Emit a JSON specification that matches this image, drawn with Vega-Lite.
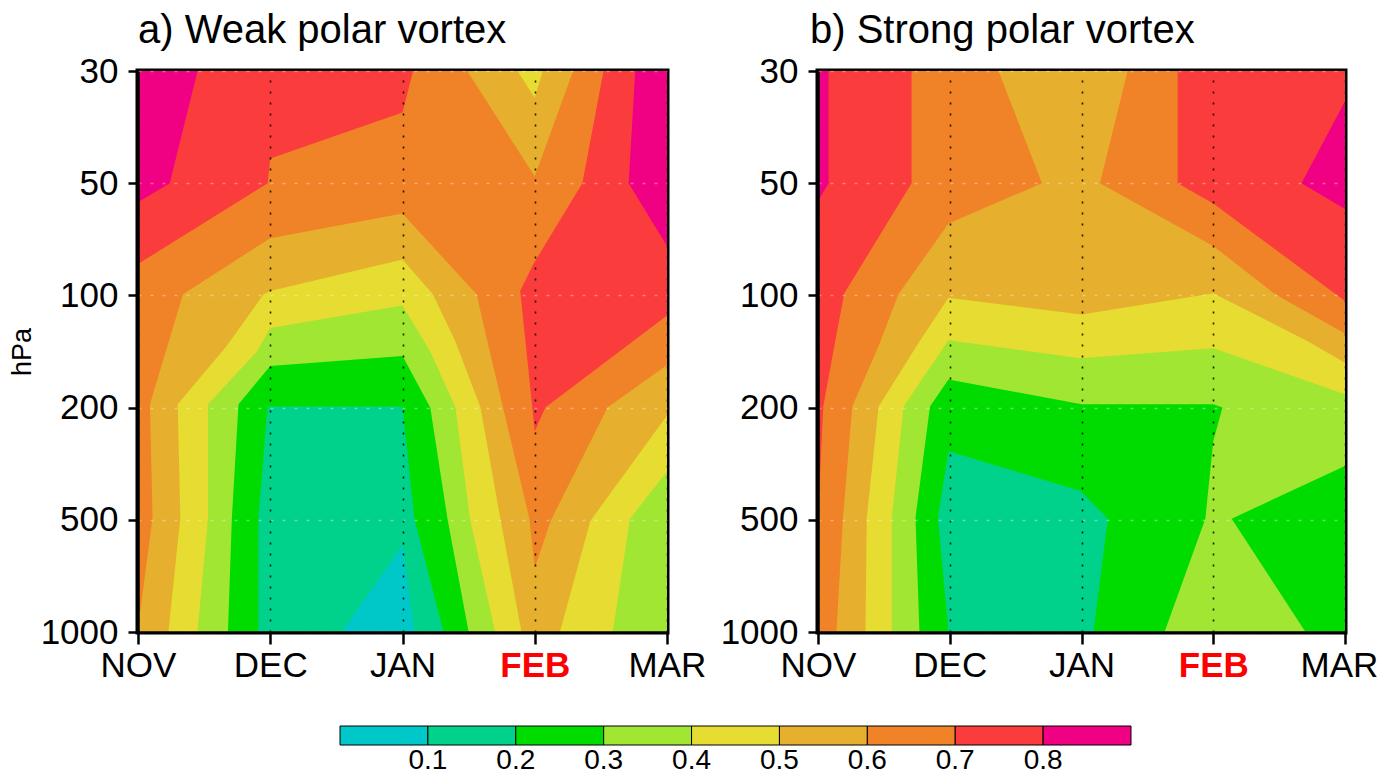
{
"$schema":"https://vega.github.io/schema/vega-lite/v6.json",
"background":"white",
"padding":{"left":5,"top":8,"right":0,"bottom":0},
"bounds":"flush",
"spacing":151,
"datasets":{"poly":[
{"p":"a","v":0.85,"g":"a9","i":0,"x":0,"y":0},{"p":"a","v":0.85,"g":"a9","i":1,"x":4,"y":0},{"p":"a","v":0.85,"g":"a9","i":2,"x":4,"y":5},{"p":"a","v":0.85,"g":"a9","i":3,"x":0,"y":5},
{"p":"a","v":0.75,"g":"a8","i":0,"x":0.45,"y":0},{"p":"a","v":0.75,"g":"a8","i":1,"x":3.76,"y":0},{"p":"a","v":0.75,"g":"a8","i":2,"x":3.71,"y":1},{"p":"a","v":0.75,"g":"a8","i":3,"x":4,"y":1.56},{"p":"a","v":0.75,"g":"a8","i":4,"x":4,"y":5},{"p":"a","v":0.75,"g":"a8","i":5,"x":0,"y":5},{"p":"a","v":0.75,"g":"a8","i":6,"x":0,"y":1.17},{"p":"a","v":0.75,"g":"a8","i":7,"x":0.24,"y":1},
{"p":"a","v":0.65,"g":"a7","i":0,"x":2.08,"y":0},{"p":"a","v":0.65,"g":"a7","i":1,"x":3.52,"y":0},{"p":"a","v":0.65,"g":"a7","i":2,"x":3.36,"y":1},{"p":"a","v":0.65,"g":"a7","i":3,"x":2.99,"y":1.72},{"p":"a","v":0.65,"g":"a7","i":4,"x":2.89,"y":1.96},{"p":"a","v":0.65,"g":"a7","i":5,"x":2.93,"y":2.41},{"p":"a","v":0.65,"g":"a7","i":6,"x":3,"y":3.21},{"p":"a","v":0.65,"g":"a7","i":7,"x":3.08,"y":3},{"p":"a","v":0.65,"g":"a7","i":8,"x":3.74,"y":2.41},{"p":"a","v":0.65,"g":"a7","i":9,"x":4,"y":2.18},{"p":"a","v":0.65,"g":"a7","i":10,"x":4,"y":5},{"p":"a","v":0.65,"g":"a7","i":11,"x":0,"y":5},{"p":"a","v":0.65,"g":"a7","i":12,"x":0,"y":1.72},{"p":"a","v":0.65,"g":"a7","i":13,"x":0.98,"y":1},{"p":"a","v":0.65,"g":"a7","i":14,"x":1,"y":0.78},{"p":"a","v":0.65,"g":"a7","i":15,"x":2,"y":0.37},
{"p":"a","v":0.55,"g":"a6a","i":0,"x":2.49,"y":0},{"p":"a","v":0.55,"g":"a6a","i":1,"x":3,"y":0.94},{"p":"a","v":0.55,"g":"a6a","i":2,"x":3.29,"y":0},
{"p":"a","v":0.55,"g":"a6b","i":0,"x":0,"y":4.9},{"p":"a","v":0.55,"g":"a6b","i":1,"x":0.02,"y":4.79},{"p":"a","v":0.55,"g":"a6b","i":2,"x":0.11,"y":3.98},{"p":"a","v":0.55,"g":"a6b","i":3,"x":0.09,"y":2.97},{"p":"a","v":0.55,"g":"a6b","i":4,"x":0.34,"y":1.99},{"p":"a","v":0.55,"g":"a6b","i":5,"x":1,"y":1.49},{"p":"a","v":0.55,"g":"a6b","i":6,"x":2,"y":1.27},{"p":"a","v":0.55,"g":"a6b","i":7,"x":2.56,"y":1.99},{"p":"a","v":0.55,"g":"a6b","i":8,"x":2.65,"y":2.45},{"p":"a","v":0.55,"g":"a6b","i":9,"x":2.76,"y":3},{"p":"a","v":0.55,"g":"a6b","i":10,"x":2.96,"y":3.99},{"p":"a","v":0.55,"g":"a6b","i":11,"x":3,"y":4.43},{"p":"a","v":0.55,"g":"a6b","i":12,"x":3.12,"y":4.01},{"p":"a","v":0.55,"g":"a6b","i":13,"x":3.55,"y":3},{"p":"a","v":0.55,"g":"a6b","i":14,"x":4,"y":2.62},{"p":"a","v":0.55,"g":"a6b","i":15,"x":4,"y":5},{"p":"a","v":0.55,"g":"a6b","i":16,"x":0,"y":5},
{"p":"a","v":0.45,"g":"a5a","i":0,"x":2.87,"y":0},{"p":"a","v":0.45,"g":"a5a","i":1,"x":3,"y":0.24},{"p":"a","v":0.45,"g":"a5a","i":2,"x":3.06,"y":0},
{"p":"a","v":0.45,"g":"a5b","i":0,"x":0.23,"y":5},{"p":"a","v":0.45,"g":"a5b","i":1,"x":0.32,"y":3.98},{"p":"a","v":0.45,"g":"a5b","i":2,"x":0.3,"y":2.97},{"p":"a","v":0.45,"g":"a5b","i":3,"x":0.67,"y":2.45},{"p":"a","v":0.45,"g":"a5b","i":4,"x":0.95,"y":1.99},{"p":"a","v":0.45,"g":"a5b","i":5,"x":1,"y":1.96},{"p":"a","v":0.45,"g":"a5b","i":6,"x":2,"y":1.68},{"p":"a","v":0.45,"g":"a5b","i":7,"x":2.23,"y":1.99},{"p":"a","v":0.45,"g":"a5b","i":8,"x":2.4,"y":2.41},{"p":"a","v":0.45,"g":"a5b","i":9,"x":2.59,"y":3},{"p":"a","v":0.45,"g":"a5b","i":10,"x":2.74,"y":3.99},{"p":"a","v":0.45,"g":"a5b","i":11,"x":2.9,"y":5},
{"p":"a","v":0.45,"g":"a5c","i":0,"x":4,"y":3.07},{"p":"a","v":0.45,"g":"a5c","i":1,"x":3.42,"y":4.01},{"p":"a","v":0.45,"g":"a5c","i":2,"x":3.19,"y":5},{"p":"a","v":0.45,"g":"a5c","i":3,"x":4,"y":5},
{"p":"a","v":0.35,"g":"a4a","i":0,"x":0.45,"y":5},{"p":"a","v":0.35,"g":"a4a","i":1,"x":0.53,"y":3.98},{"p":"a","v":0.35,"g":"a4a","i":2,"x":0.53,"y":2.97},{"p":"a","v":0.35,"g":"a4a","i":3,"x":0.9,"y":2.5},{"p":"a","v":0.35,"g":"a4a","i":4,"x":1,"y":2.29},{"p":"a","v":0.35,"g":"a4a","i":5,"x":2,"y":2.09},{"p":"a","v":0.35,"g":"a4a","i":6,"x":2.21,"y":2.5},{"p":"a","v":0.35,"g":"a4a","i":7,"x":2.4,"y":3},{"p":"a","v":0.35,"g":"a4a","i":8,"x":2.51,"y":3.99},{"p":"a","v":0.35,"g":"a4a","i":9,"x":2.7,"y":5},
{"p":"a","v":0.35,"g":"a4b","i":0,"x":4,"y":3.57},{"p":"a","v":0.35,"g":"a4b","i":1,"x":3.72,"y":3.99},{"p":"a","v":0.35,"g":"a4b","i":2,"x":3.59,"y":5},{"p":"a","v":0.35,"g":"a4b","i":3,"x":4,"y":5},
{"p":"a","v":0.25,"g":"a3","i":0,"x":0.68,"y":5},{"p":"a","v":0.25,"g":"a3","i":1,"x":0.71,"y":3.98},{"p":"a","v":0.25,"g":"a3","i":2,"x":0.76,"y":2.97},{"p":"a","v":0.25,"g":"a3","i":3,"x":1,"y":2.63},{"p":"a","v":0.25,"g":"a3","i":4,"x":2,"y":2.54},{"p":"a","v":0.25,"g":"a3","i":5,"x":2.21,"y":3},{"p":"a","v":0.25,"g":"a3","i":6,"x":2.34,"y":3.99},{"p":"a","v":0.25,"g":"a3","i":7,"x":2.5,"y":5},
{"p":"a","v":0.15,"g":"a2","i":0,"x":0.91,"y":5},{"p":"a","v":0.15,"g":"a2","i":1,"x":0.91,"y":3.98},{"p":"a","v":0.15,"g":"a2","i":2,"x":0.98,"y":2.99},{"p":"a","v":0.15,"g":"a2","i":3,"x":2,"y":2.99},{"p":"a","v":0.15,"g":"a2","i":4,"x":2.09,"y":3.99},{"p":"a","v":0.15,"g":"a2","i":5,"x":2.31,"y":5},
{"p":"a","v":0.05,"g":"a1","i":0,"x":1.54,"y":5},{"p":"a","v":0.05,"g":"a1","i":1,"x":2,"y":4.23},{"p":"a","v":0.05,"g":"a1","i":2,"x":2.09,"y":5},
{"p":"b","v":0.85,"g":"b9","i":0,"x":0,"y":0},{"p":"b","v":0.85,"g":"b9","i":1,"x":4,"y":0},{"p":"b","v":0.85,"g":"b9","i":2,"x":4,"y":5},{"p":"b","v":0.85,"g":"b9","i":3,"x":0,"y":5},
{"p":"b","v":0.75,"g":"b8","i":0,"x":0.08,"y":0},{"p":"b","v":0.75,"g":"b8","i":1,"x":4,"y":0},{"p":"b","v":0.75,"g":"b8","i":2,"x":4,"y":0.27},{"p":"b","v":0.75,"g":"b8","i":3,"x":3.67,"y":1},{"p":"b","v":0.75,"g":"b8","i":4,"x":4,"y":1.23},{"p":"b","v":0.75,"g":"b8","i":5,"x":4,"y":5},{"p":"b","v":0.75,"g":"b8","i":6,"x":0,"y":5},{"p":"b","v":0.75,"g":"b8","i":7,"x":0,"y":1.16},{"p":"b","v":0.75,"g":"b8","i":8,"x":0.08,"y":1},
{"p":"b","v":0.65,"g":"b7","i":0,"x":0.71,"y":0},{"p":"b","v":0.65,"g":"b7","i":1,"x":2.73,"y":0},{"p":"b","v":0.65,"g":"b7","i":2,"x":2.73,"y":1},{"p":"b","v":0.65,"g":"b7","i":3,"x":3,"y":1.18},{"p":"b","v":0.65,"g":"b7","i":4,"x":4,"y":2.05},{"p":"b","v":0.65,"g":"b7","i":5,"x":4,"y":5},{"p":"b","v":0.65,"g":"b7","i":6,"x":0,"y":5},{"p":"b","v":0.65,"g":"b7","i":7,"x":0,"y":4.01},{"p":"b","v":0.65,"g":"b7","i":8,"x":0.04,"y":2.99},{"p":"b","v":0.65,"g":"b7","i":9,"x":0.13,"y":2.41},{"p":"b","v":0.65,"g":"b7","i":10,"x":0.2,"y":1.98},{"p":"b","v":0.65,"g":"b7","i":11,"x":0.71,"y":1},
{"p":"b","v":0.55,"g":"b6","i":0,"x":1.37,"y":0},{"p":"b","v":0.55,"g":"b6","i":1,"x":2.35,"y":0},{"p":"b","v":0.55,"g":"b6","i":2,"x":2.14,"y":1},{"p":"b","v":0.55,"g":"b6","i":3,"x":3,"y":1.56},{"p":"b","v":0.55,"g":"b6","i":4,"x":3.47,"y":1.99},{"p":"b","v":0.55,"g":"b6","i":5,"x":4,"y":2.34},{"p":"b","v":0.55,"g":"b6","i":6,"x":4,"y":5},{"p":"b","v":0.55,"g":"b6","i":7,"x":0.14,"y":5},{"p":"b","v":0.55,"g":"b6","i":8,"x":0.19,"y":3.98},{"p":"b","v":0.55,"g":"b6","i":9,"x":0.26,"y":2.99},{"p":"b","v":0.55,"g":"b6","i":10,"x":0.46,"y":2.45},{"p":"b","v":0.55,"g":"b6","i":11,"x":0.61,"y":1.99},{"p":"b","v":0.55,"g":"b6","i":12,"x":0.99,"y":1.36},{"p":"b","v":0.55,"g":"b6","i":13,"x":1.7,"y":1},
{"p":"b","v":0.45,"g":"b5","i":0,"x":0.99,"y":2.02},{"p":"b","v":0.45,"g":"b5","i":1,"x":2,"y":2.17},{"p":"b","v":0.45,"g":"b5","i":2,"x":3,"y":1.98},{"p":"b","v":0.45,"g":"b5","i":3,"x":3.72,"y":2.41},{"p":"b","v":0.45,"g":"b5","i":4,"x":4,"y":2.6},{"p":"b","v":0.45,"g":"b5","i":5,"x":4,"y":5},{"p":"b","v":0.45,"g":"b5","i":6,"x":0.36,"y":5},{"p":"b","v":0.45,"g":"b5","i":7,"x":0.37,"y":3.98},{"p":"b","v":0.45,"g":"b5","i":8,"x":0.46,"y":2.99},{"p":"b","v":0.45,"g":"b5","i":9,"x":0.77,"y":2.41},
{"p":"b","v":0.35,"g":"b4","i":0,"x":0.99,"y":2.4},{"p":"b","v":0.35,"g":"b4","i":1,"x":1.99,"y":2.56},{"p":"b","v":0.35,"g":"b4","i":2,"x":3,"y":2.47},{"p":"b","v":0.35,"g":"b4","i":3,"x":4,"y":2.88},{"p":"b","v":0.35,"g":"b4","i":4,"x":4,"y":5},{"p":"b","v":0.35,"g":"b4","i":5,"x":0.56,"y":5},{"p":"b","v":0.35,"g":"b4","i":6,"x":0.56,"y":3.98},{"p":"b","v":0.35,"g":"b4","i":7,"x":0.65,"y":2.99},
{"p":"b","v":0.25,"g":"b3a","i":0,"x":0.99,"y":2.75},{"p":"b","v":0.25,"g":"b3a","i":1,"x":2,"y":2.97},{"p":"b","v":0.25,"g":"b3a","i":2,"x":3,"y":2.97},{"p":"b","v":0.25,"g":"b3a","i":3,"x":3.07,"y":3},{"p":"b","v":0.25,"g":"b3a","i":4,"x":3,"y":3.3},{"p":"b","v":0.25,"g":"b3a","i":5,"x":2.94,"y":3.99},{"p":"b","v":0.25,"g":"b3a","i":6,"x":2.63,"y":5},{"p":"b","v":0.25,"g":"b3a","i":7,"x":0.77,"y":5},{"p":"b","v":0.25,"g":"b3a","i":8,"x":0.74,"y":3.98},{"p":"b","v":0.25,"g":"b3a","i":9,"x":0.85,"y":2.99},
{"p":"b","v":0.25,"g":"b3b","i":0,"x":3.14,"y":3.99},{"p":"b","v":0.25,"g":"b3b","i":1,"x":4,"y":3.52},{"p":"b","v":0.25,"g":"b3b","i":2,"x":4,"y":5},{"p":"b","v":0.25,"g":"b3b","i":3,"x":3.7,"y":5},
{"p":"b","v":0.15,"g":"b2","i":0,"x":0.99,"y":3.39},{"p":"b","v":0.15,"g":"b2","i":1,"x":1.99,"y":3.74},{"p":"b","v":0.15,"g":"b2","i":2,"x":2.2,"y":3.99},{"p":"b","v":0.15,"g":"b2","i":3,"x":2.09,"y":5},{"p":"b","v":0.15,"g":"b2","i":4,"x":0.99,"y":5},{"p":"b","v":0.15,"g":"b2","i":5,"x":0.91,"y":3.98}
]},
"data":{"name":"poly"},
"resolve":{"scale":{"fill":"shared"},"legend":{"fill":"shared"}},
"hconcat":[
{
"width":529,"height":561,
"title":{"text":"a) Weak polar vortex"},
"transform":[{"filter":"datum.p=='a'"}],
"encoding":{
"x":{"field":"x","type":"quantitative","scale":{"domain":[0,4],"nice":false,"zero":false},
"axis":{"zindex":1,"values":[0,1,2,3,4],"labelExpr":"['NOV','DEC','JAN','FEB','MAR'][datum.value]","title":null,
"labelColor":{"condition":{"test":"datum.value==3","value":"#ff0000"},"value":"black"},
"labelFontWeight":{"condition":{"test":"datum.value==3","value":"bold"},"value":"normal"}}},
"y":{"field":"y","type":"quantitative","scale":{"domain":[0,5],"reverse":true,"nice":false,"zero":false},
"axis":{"zindex":1,"values":[0,1,2,3,4,5],"labelExpr":"['30','50','100','200','500','1000'][datum.value]","title":"hPa"}},
"fill":{"field":"v","type":"quantitative","scale":{"type":"threshold","domain":[0.1,0.2,0.3,0.4,0.5,0.6,0.7,0.8],"range":["#00c8c8","#00d28c","#00dc00","#a0e632","#e6dc32","#e6af2d","#f08228","#fa3c3c","#f00082"]},
"legend":{"type":"gradient","orient":"none","legendX":202,"legendY":655,"direction":"horizontal","title":null,"format":".1f","labelFontSize":28,"labelFont":"Liberation Sans","labelOffset":2}},
"detail":{"field":"g","type":"nominal"},
"order":{"field":"i","type":"quantitative"}
},
"layer":[
{"transform":[{"filter":"datum.v==0.85"}],"mark":{"type":"line","interpolate":"linear-closed","strokeWidth":0},"encoding":{}},
{"transform":[{"filter":"datum.v==0.75"}],"mark":{"type":"line","interpolate":"linear-closed","strokeWidth":0},"encoding":{}},
{"transform":[{"filter":"datum.v==0.65"}],"mark":{"type":"line","interpolate":"linear-closed","strokeWidth":0},"encoding":{}},
{"transform":[{"filter":"datum.v==0.55"}],"mark":{"type":"line","interpolate":"linear-closed","strokeWidth":0},"encoding":{}},
{"transform":[{"filter":"datum.v==0.45"}],"mark":{"type":"line","interpolate":"linear-closed","strokeWidth":0},"encoding":{}},
{"transform":[{"filter":"datum.v==0.35"}],"mark":{"type":"line","interpolate":"linear-closed","strokeWidth":0},"encoding":{}},
{"transform":[{"filter":"datum.v==0.25"}],"mark":{"type":"line","interpolate":"linear-closed","strokeWidth":0},"encoding":{}},
{"transform":[{"filter":"datum.v==0.15"}],"mark":{"type":"line","interpolate":"linear-closed","strokeWidth":0},"encoding":{}},
{"transform":[{"filter":"datum.v==0.05"}],"mark":{"type":"line","interpolate":"linear-closed","strokeWidth":0},"encoding":{}}
]
},
{
"width":527,"height":561,
"title":{"text":"b) Strong polar vortex","dx":-8},
"transform":[{"filter":"datum.p=='b'"}],
"encoding":{
"x":{"field":"x","type":"quantitative","scale":{"domain":[0,4],"nice":false,"zero":false},
"axis":{"zindex":1,"values":[0,1,2,3,4],"labelExpr":"['NOV','DEC','JAN','FEB','MAR'][datum.value]","title":null,
"labelColor":{"condition":{"test":"datum.value==3","value":"#ff0000"},"value":"black"},
"labelFontWeight":{"condition":{"test":"datum.value==3","value":"bold"},"value":"normal"},
"labelOffset":{"condition":{"test":"datum.value==4","value":-6},"value":0}}},
"y":{"field":"y","type":"quantitative","scale":{"domain":[0,5],"reverse":true,"nice":false,"zero":false},
"axis":{"zindex":1,"values":[0,1,2,3,4,5],"labelExpr":"['30','50','100','200','500','1000'][datum.value]","title":null}},
"fill":{"field":"v","type":"quantitative","scale":{"type":"threshold","domain":[0.1,0.2,0.3,0.4,0.5,0.6,0.7,0.8],"range":["#00c8c8","#00d28c","#00dc00","#a0e632","#e6dc32","#e6af2d","#f08228","#fa3c3c","#f00082"]},
"legend":{"type":"gradient","orient":"none","legendX":202,"legendY":655,"direction":"horizontal","title":null,"format":".1f","labelFontSize":28,"labelFont":"Liberation Sans","labelOffset":2}},
"detail":{"field":"g","type":"nominal"},
"order":{"field":"i","type":"quantitative"}
},
"layer":[
{"transform":[{"filter":"datum.v==0.85"}],"mark":{"type":"line","interpolate":"linear-closed","strokeWidth":0},"encoding":{}},
{"transform":[{"filter":"datum.v==0.75"}],"mark":{"type":"line","interpolate":"linear-closed","strokeWidth":0},"encoding":{}},
{"transform":[{"filter":"datum.v==0.65"}],"mark":{"type":"line","interpolate":"linear-closed","strokeWidth":0},"encoding":{}},
{"transform":[{"filter":"datum.v==0.55"}],"mark":{"type":"line","interpolate":"linear-closed","strokeWidth":0},"encoding":{}},
{"transform":[{"filter":"datum.v==0.45"}],"mark":{"type":"line","interpolate":"linear-closed","strokeWidth":0},"encoding":{}},
{"transform":[{"filter":"datum.v==0.35"}],"mark":{"type":"line","interpolate":"linear-closed","strokeWidth":0},"encoding":{}},
{"transform":[{"filter":"datum.v==0.25"}],"mark":{"type":"line","interpolate":"linear-closed","strokeWidth":0},"encoding":{}},
{"transform":[{"filter":"datum.v==0.15"}],"mark":{"type":"line","interpolate":"linear-closed","strokeWidth":0},"encoding":{}}
]
}
],
"config":{
"view":{"stroke":"black","strokeWidth":5},
"axis":{"labelFont":"Liberation Sans","labelFontSize":35,"labelColor":"black","tickColor":"black","tickWidth":2.5,"domainColor":"black","domainWidth":2.5,"titleFont":"Liberation Sans","titleFontWeight":"normal","titleColor":"black","labelFlush":false,"labelOverlap":false,"grid":true},
"axisX":{"tickSize":12,"labelPadding":4,"gridDash":[2,9],"gridColor":"#000000","gridWidth":1.6,"gridOpacity":0.85},
"axisY":{"tickSize":10,"labelPadding":10,"gridDash":[3,9],"gridColor":"#ffffff","gridOpacity":0.35,"gridWidth":1.3,"titleFontSize":27,"titlePadding":4},
"title":{"font":"Liberation Sans","fontSize":40,"fontWeight":"normal","color":"black","anchor":"start","frame":"group","offset":3},
"legend":{"gradientLength":791,"gradientThickness":19,"gradientStrokeColor":"black","gradientStrokeWidth":1,"labelFont":"Liberation Sans","labelFontSize":28,"labelColor":"black","labelOffset":2}
}
}
